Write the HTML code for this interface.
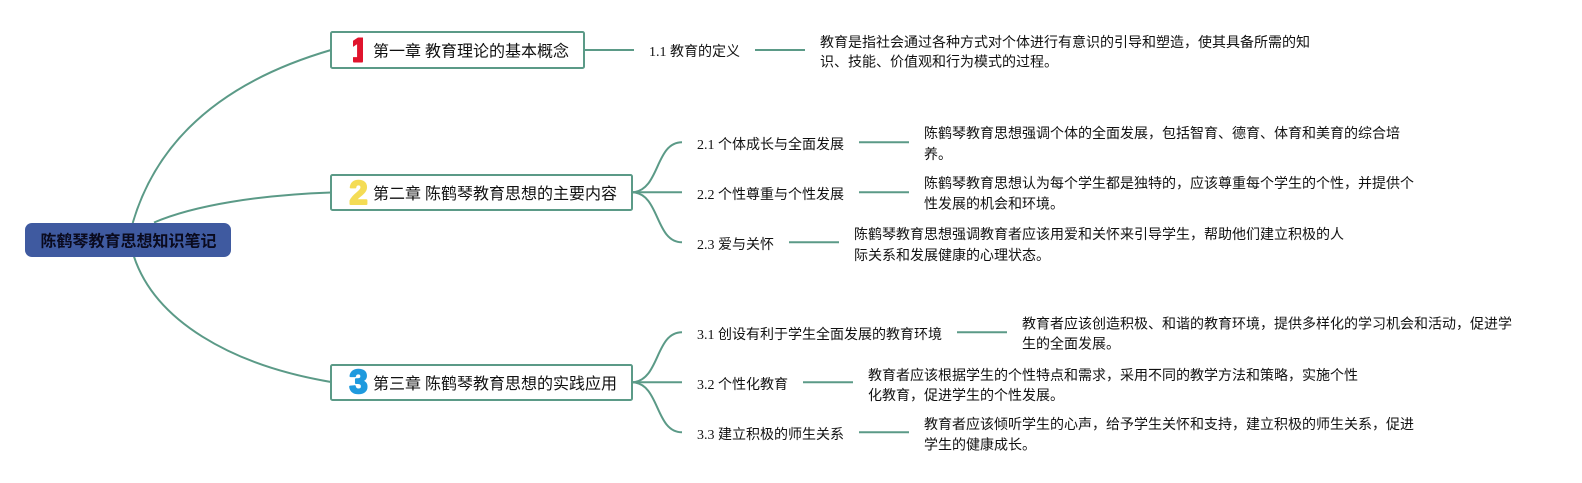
<!DOCTYPE html>
<html lang="zh">
<head>
<meta charset="utf-8">
<style>
html,body{margin:0;padding:0;background:#fff;width:1582px;height:483px;overflow:hidden}
svg{display:block}
text{font-family:"Liberation Serif","WenQuanYi Zen Hei","Noto Sans CJK SC",sans-serif;fill:#111;font-size:14px}
.c{font-size:16px}
.r{font-size:16px;font-weight:bold;fill:#0a0a1e;font-family:"Liberation Sans","WenQuanYi Zen Hei","Noto Sans CJK SC",sans-serif}
.n{font-family:"Liberation Sans",sans-serif;font-weight:bold;font-size:33px;text-anchor:middle;stroke-width:2;stroke-linejoin:round}
.n1{fill:#e0142d;stroke:#e0142d}
.n2{fill:#f4dc55;stroke:#f4dc55}
.n3{fill:#1f9ade;stroke:#1f9ade}
.l{fill:none;stroke:#5b9a87;stroke-width:2}
.b{fill:#fff;stroke:#5b9a87;stroke-width:2}
</style>
</head>
<body>
<svg width="1582" height="483" viewBox="0 0 1582 483" xmlns="http://www.w3.org/2000/svg">
<defs><clipPath id="one"><rect x="353" y="35" width="10" height="28" rx="2"/></clipPath></defs>
<path class="l" d="M132.7 223C160 130 235 78 331 50"/>
<path class="l" d="M154 222.5C195 205 260 195 331 192.5"/>
<path class="l" d="M134 256.7C155 320 230 365 331 382"/>

<path class="l" d="M584 50H634M755 50H805"/>
<path class="l" d="M633 192.3C660 190 655 142.3 682 142.3"/>
<path class="l" d="M633 192.3H682"/>
<path class="l" d="M633 192.3C660 194 655 242.3 682 242.3"/>
<path class="l" d="M859 142.3H909M859 192.3H909M789 242.3H839"/>
<path class="l" d="M633 382.3C660 380 655 332.3 682 332.3"/>
<path class="l" d="M633 382.3H682"/>
<path class="l" d="M633 382.3C660 384 655 432.3 682 432.3"/>
<path class="l" d="M957 332.3H1007M803 382.3H853M859 432.3H909"/>

<rect x="25" y="223" width="206" height="34" rx="7" fill="#3f5aa0"/>
<text class="r" x="40.5" y="246.5">陈鹤琴教育思想知识笔记</text>

<rect class="b" x="331" y="32" width="253" height="36" rx="1.5"/>
<rect class="b" x="331" y="175" width="301" height="35" rx="1.5"/>
<rect class="b" x="331" y="365" width="301" height="35" rx="1.5"/>

<g clip-path="url(#one)"><text class="n n1" x="359.5" y="61.5">1</text></g>
<text class="n n2" x="358.5" y="204">2</text>
<text class="n n3" x="358.5" y="393">3</text>

<text class="c" x="373" y="56.5">第一章 教育理论的基本概念</text>
<text class="c" x="373" y="199">第二章 陈鹤琴教育思想的主要内容</text>
<text class="c" x="373" y="389">第三章 陈鹤琴教育思想的实践应用</text>

<text x="649" y="56">1.1 教育的定义</text>
<text x="697" y="149">2.1 个体成长与全面发展</text>
<text x="697" y="199">2.2 个性尊重与个性发展</text>
<text x="697" y="249">2.3 爱与关怀</text>
<text x="697" y="339">3.1 创设有利于学生全面发展的教育环境</text>
<text x="697" y="389">3.2 个性化教育</text>
<text x="697" y="439">3.3 建立积极的师生关系</text>

<text x="820" y="47">教育是指社会通过各种方式对个体进行有意识的引导和塑造，使其具备所需的知</text>
<text x="820" y="66.5">识、技能、价值观和行为模式的过程。</text>

<text x="924" y="138">陈鹤琴教育思想强调个体的全面发展，包括智育、德育、体育和美育的综合培</text>
<text x="924" y="159">养。</text>
<text x="924" y="188">陈鹤琴教育思想认为每个学生都是独特的，应该尊重每个学生的个性，并提供个</text>
<text x="924" y="208.5">性发展的机会和环境。</text>
<text x="854" y="239">陈鹤琴教育思想强调教育者应该用爱和关怀来引导学生，帮助他们建立积极的人</text>
<text x="854" y="260">际关系和发展健康的心理状态。</text>

<text x="1022" y="328.5">教育者应该创造积极、和谐的教育环境，提供多样化的学习机会和活动，促进学</text>
<text x="1022" y="348.5">生的全面发展。</text>
<text x="868" y="380">教育者应该根据学生的个性特点和需求，采用不同的教学方法和策略，实施个性</text>
<text x="868" y="400">化教育，促进学生的个性发展。</text>
<text x="924" y="429">教育者应该倾听学生的心声，给予学生关怀和支持，建立积极的师生关系，促进</text>
<text x="924" y="449.5">学生的健康成长。</text>
</svg>
</body>
</html>
